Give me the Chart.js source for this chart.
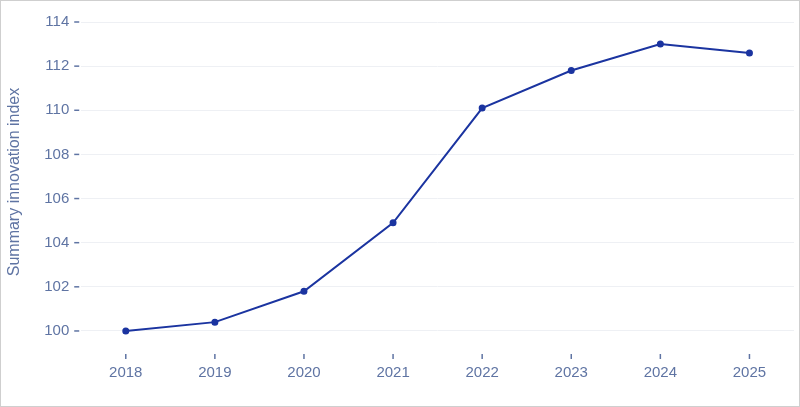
<!DOCTYPE html>
<html><head><meta charset="utf-8">
<script src="https://cdn.jsdelivr.net/npm/chart.js@4"></script>
<style>html,body{margin:0;padding:0;background:#fff}#w{width:798px;height:405px;border:1px solid #cfcfcf}canvas{display:block}</style>
</head><body><div id="w"><canvas id="c" width="798" height="405"></canvas></div>
<script>
const years = ['2018','2019','2020','2021','2022','2023','2024','2025'];
const indexValues = [100, 100.4, 101.8, 104.9, 110.1, 111.8, 113.0, 112.6];
const yTicks = [100,102,104,106,108,110,112,114];
const txt = '#5f74a3';
const marks = {id:'marks', afterDraw(ch){
  const c=ch.ctx, a=ch.chartArea, x=ch.scales.x, y=ch.scales.y;
  c.save(); c.strokeStyle=txt; c.lineWidth=1.5;
  y.ticks.forEach((t,i)=>{const p=y.getPixelForTick(i); c.beginPath(); c.moveTo(a.left-7,p); c.lineTo(a.left-2,p); c.stroke();});
  x.ticks.forEach((t,i)=>{const p=x.getPixelForTick(i); c.beginPath(); c.moveTo(p,a.bottom+12); c.lineTo(p,a.bottom+17); c.stroke();});
  c.restore();
}};
new Chart(document.getElementById('c'),{
  type:'line',
  data:{labels:years,datasets:[{data:indexValues,borderColor:'#1b34a0',backgroundColor:'#1b34a0',borderWidth:2,pointRadius:2.5,pointHoverRadius:2.5,tension:0}]},
  options:{responsive:false,animation:false,devicePixelRatio:1,
    layout:{padding:{top:14,right:5,left:0,bottom:2}},
    plugins:{legend:{display:false},tooltip:{enabled:false}},
    scales:{
      x:{offset:true,grid:{display:false,drawTicks:false},border:{display:false},
         ticks:{color:txt,font:{family:'Liberation Sans, Arial',size:15},padding:22}},
      y:{min:99.5,max:114,border:{display:false},
         afterBuildTicks:s=>{s.ticks=yTicks.map(v=>({value:v}));},
         grid:{color:'#eef0f4',drawTicks:false},
         ticks:{color:txt,font:{family:'Liberation Sans, Arial',size:15},padding:12},
         title:{display:true,text:'Summary innovation index',color:txt,font:{family:'Liberation Sans, Arial',size:16},padding:{bottom:8}}}
    }},
  plugins:[marks]
});
</script></body></html>
